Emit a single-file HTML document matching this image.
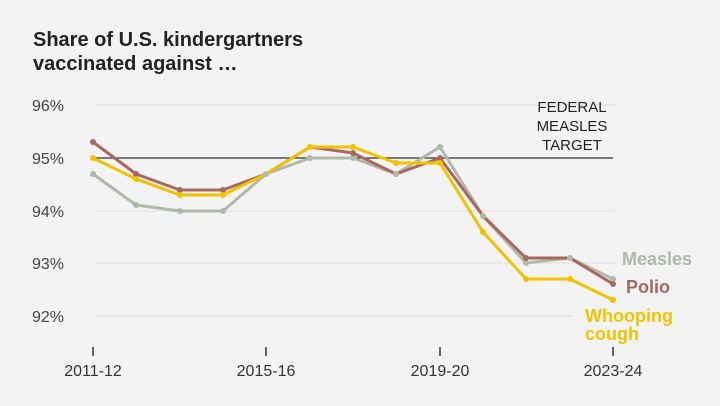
<!DOCTYPE html><html><head><style>
body{margin:0;background:#f3f3f3;}
svg{display:block;font-family:"Liberation Sans",sans-serif;}
</style></head><body>
<svg width="720" height="406" viewBox="0 0 720 406">
<rect width="720" height="406" fill="#f3f3f3"/>
<text x="33" y="46" font-size="20" font-weight="bold" fill="#222">Share of U.S. kindergartners</text>
<text x="33" y="70" font-size="20" font-weight="bold" fill="#222">vaccinated against …</text>
<g font-size="16" fill="#444">
<text x="32" y="111">96%</text><text x="32" y="164">95%</text><text x="32" y="217">94%</text><text x="32" y="269">93%</text><text x="32" y="322">92%</text>
</g>
<g stroke="#ddd" stroke-width="1">
<line x1="96" y1="105" x2="615" y2="105"/><line x1="96" y1="211" x2="615" y2="211"/><line x1="96" y1="263" x2="615" y2="263"/><line x1="96" y1="316" x2="572" y2="316"/>
</g>
<line x1="93" y1="158" x2="613" y2="158" stroke="#333" stroke-width="1.3"/>
<g font-size="15" fill="#222" text-anchor="middle">
<text x="572" y="112">FEDERAL</text><text x="572" y="131">MEASLES</text><text x="572" y="150">TARGET</text>
</g>
<g stroke="#333" stroke-width="1.5"><line x1="93" y1="347" x2="93" y2="356"/><line x1="266" y1="347" x2="266" y2="356"/><line x1="440" y1="347" x2="440" y2="356"/><line x1="613" y1="347" x2="613" y2="356"/></g>
<g font-size="16" fill="#333" text-anchor="middle">
<text x="93" y="376">2011-12</text><text x="266" y="376">2015-16</text><text x="440" y="376">2019-20</text><text x="613" y="376">2023-24</text>
</g>
<g fill="none" stroke-width="3" stroke-linejoin="round">
<polyline stroke="#b0baa8" points="93,174 136,205 180,211 223,211 266,174 310,158 353,158 396,174 440,147 483,216 526,263 570,258 613,279"/>
<polyline stroke="#a9685f" points="93,142 136,174 180,190 223,190 266,174 310,147 353,153 396,174 440,158 483,216 526,258 570,258 613,284"/>
<polyline stroke="#f2c200" points="93,158 136,179 180,195 223,195 266,174 310,147 353,147 396,163 440,163 483,232 526,279 570,279 613,300"/>
</g>
<g>
<g fill="#b0baa8"><circle cx="93" cy="174" r="3"/><circle cx="136" cy="205" r="3"/><circle cx="180" cy="211" r="3"/><circle cx="223" cy="211" r="3"/><circle cx="266" cy="174" r="3"/><circle cx="310" cy="158" r="3"/><circle cx="353" cy="158" r="3"/><circle cx="396" cy="174" r="3"/><circle cx="440" cy="147" r="3"/><circle cx="483" cy="216" r="3"/><circle cx="526" cy="263" r="3"/><circle cx="570" cy="258" r="3"/><circle cx="613" cy="279" r="3"/></g>
<g fill="#a9685f"><circle cx="93" cy="142" r="3"/><circle cx="136" cy="174" r="3"/><circle cx="180" cy="190" r="3"/><circle cx="223" cy="190" r="3"/><circle cx="353" cy="153" r="3"/><circle cx="440" cy="158" r="3"/><circle cx="526" cy="258" r="3"/><circle cx="613" cy="284" r="3"/></g>
<g fill="#f2c200"><circle cx="93" cy="158" r="3"/><circle cx="136" cy="179" r="3"/><circle cx="180" cy="195" r="3"/><circle cx="223" cy="195" r="3"/><circle cx="310" cy="147" r="3"/><circle cx="353" cy="147" r="3"/><circle cx="396" cy="163" r="3"/><circle cx="440" cy="163" r="3"/><circle cx="483" cy="232" r="3"/><circle cx="526" cy="279" r="3"/><circle cx="570" cy="279" r="3"/><circle cx="613" cy="300" r="3"/></g>
</g>
<g font-size="18" font-weight="bold">
<text x="622" y="265" fill="#b0baa8">Measles</text>
<text x="626" y="293" fill="#a9685f">Polio</text>
<text x="585" y="322" fill="#f2c200">Whooping</text>
<text x="585" y="340" fill="#f2c200">cough</text>
</g>
</svg>
</body></html>
